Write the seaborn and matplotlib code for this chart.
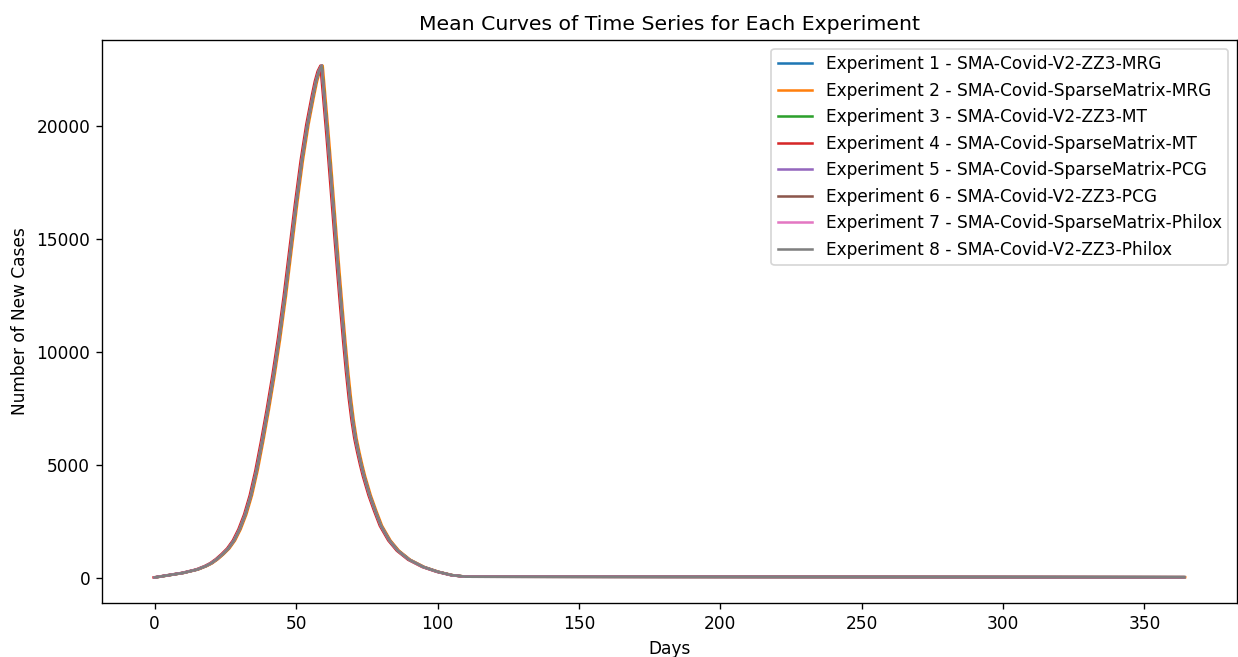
import pandas as pd
import matplotlib
matplotlib.use("Agg")
import matplotlib.pyplot as plt
import seaborn as sns

# Experiment names (legend order)
experiments = [
    "Experiment 1 - SMA-Covid-V2-ZZ3-MRG",
    "Experiment 2 - SMA-Covid-SparseMatrix-MRG",
    "Experiment 3 - SMA-Covid-V2-ZZ3-MT",
    "Experiment 4 - SMA-Covid-SparseMatrix-MT",
    "Experiment 5 - SMA-Covid-SparseMatrix-PCG",
    "Experiment 6 - SMA-Covid-V2-ZZ3-PCG",
    "Experiment 7 - SMA-Covid-SparseMatrix-Philox",
    "Experiment 8 - SMA-Covid-V2-ZZ3-Philox",
]

# Mean curve (day, new cases)
days = [0, 5, 10, 15, 18, 20, 22, 24, 26, 28, 30, 32, 34, 36, 38, 40, 42,
        44, 46, 48, 50, 52, 54, 56, 57, 58, 59, 60, 61, 62, 63, 64, 65, 66,
        67, 68, 69, 70, 71, 72, 73, 74, 76, 78, 80, 83, 86, 90, 95, 100,
        105, 110, 364]
cases = [20, 120, 220, 370, 520, 650, 830, 1050, 1300, 1650, 2150, 2800,
         3650, 4750, 6050, 7450, 8950, 10600, 12450, 14500, 16550, 18450,
         20050, 21350, 21950, 22400, 22650, 21200, 19750, 18200, 16600,
         15000, 13450, 11950, 10500, 9150, 7950, 6950, 6150, 5550, 5000,
         4500, 3650, 2950, 2300, 1650, 1200, 800, 480, 270, 120, 50, 30]

# Small timing differences between experiments (days)
day_shift = [0.1, 0.4, 0.1, -0.4, 0.0, 0.0, 0.0, 0.0]

rows = []
for name, shift in zip(experiments, day_shift):
    for d, c in zip(days, cases):
        rows.append({"Days": d + shift, "cases": c, "Experiment": name})
df = pd.DataFrame(rows)

fig = plt.figure(figsize=(1238 / 122, 657 / 122), dpi=122)
ax = fig.add_axes([0.0824, 0.0822, 0.9166, 0.8568])
sns.lineplot(data=df, x="Days", y="cases", hue="Experiment",
             hue_order=experiments, palette="tab10", linewidth=1.5,
             estimator=None, sort=False, ax=ax)

ax.set_title("Mean Curves of Time Series for Each Experiment")
ax.set_xlabel("Days")
ax.set_ylabel("Number of New Cases")
ax.legend(loc="upper right", title=None)

fig.savefig("out.png", dpi=122)
